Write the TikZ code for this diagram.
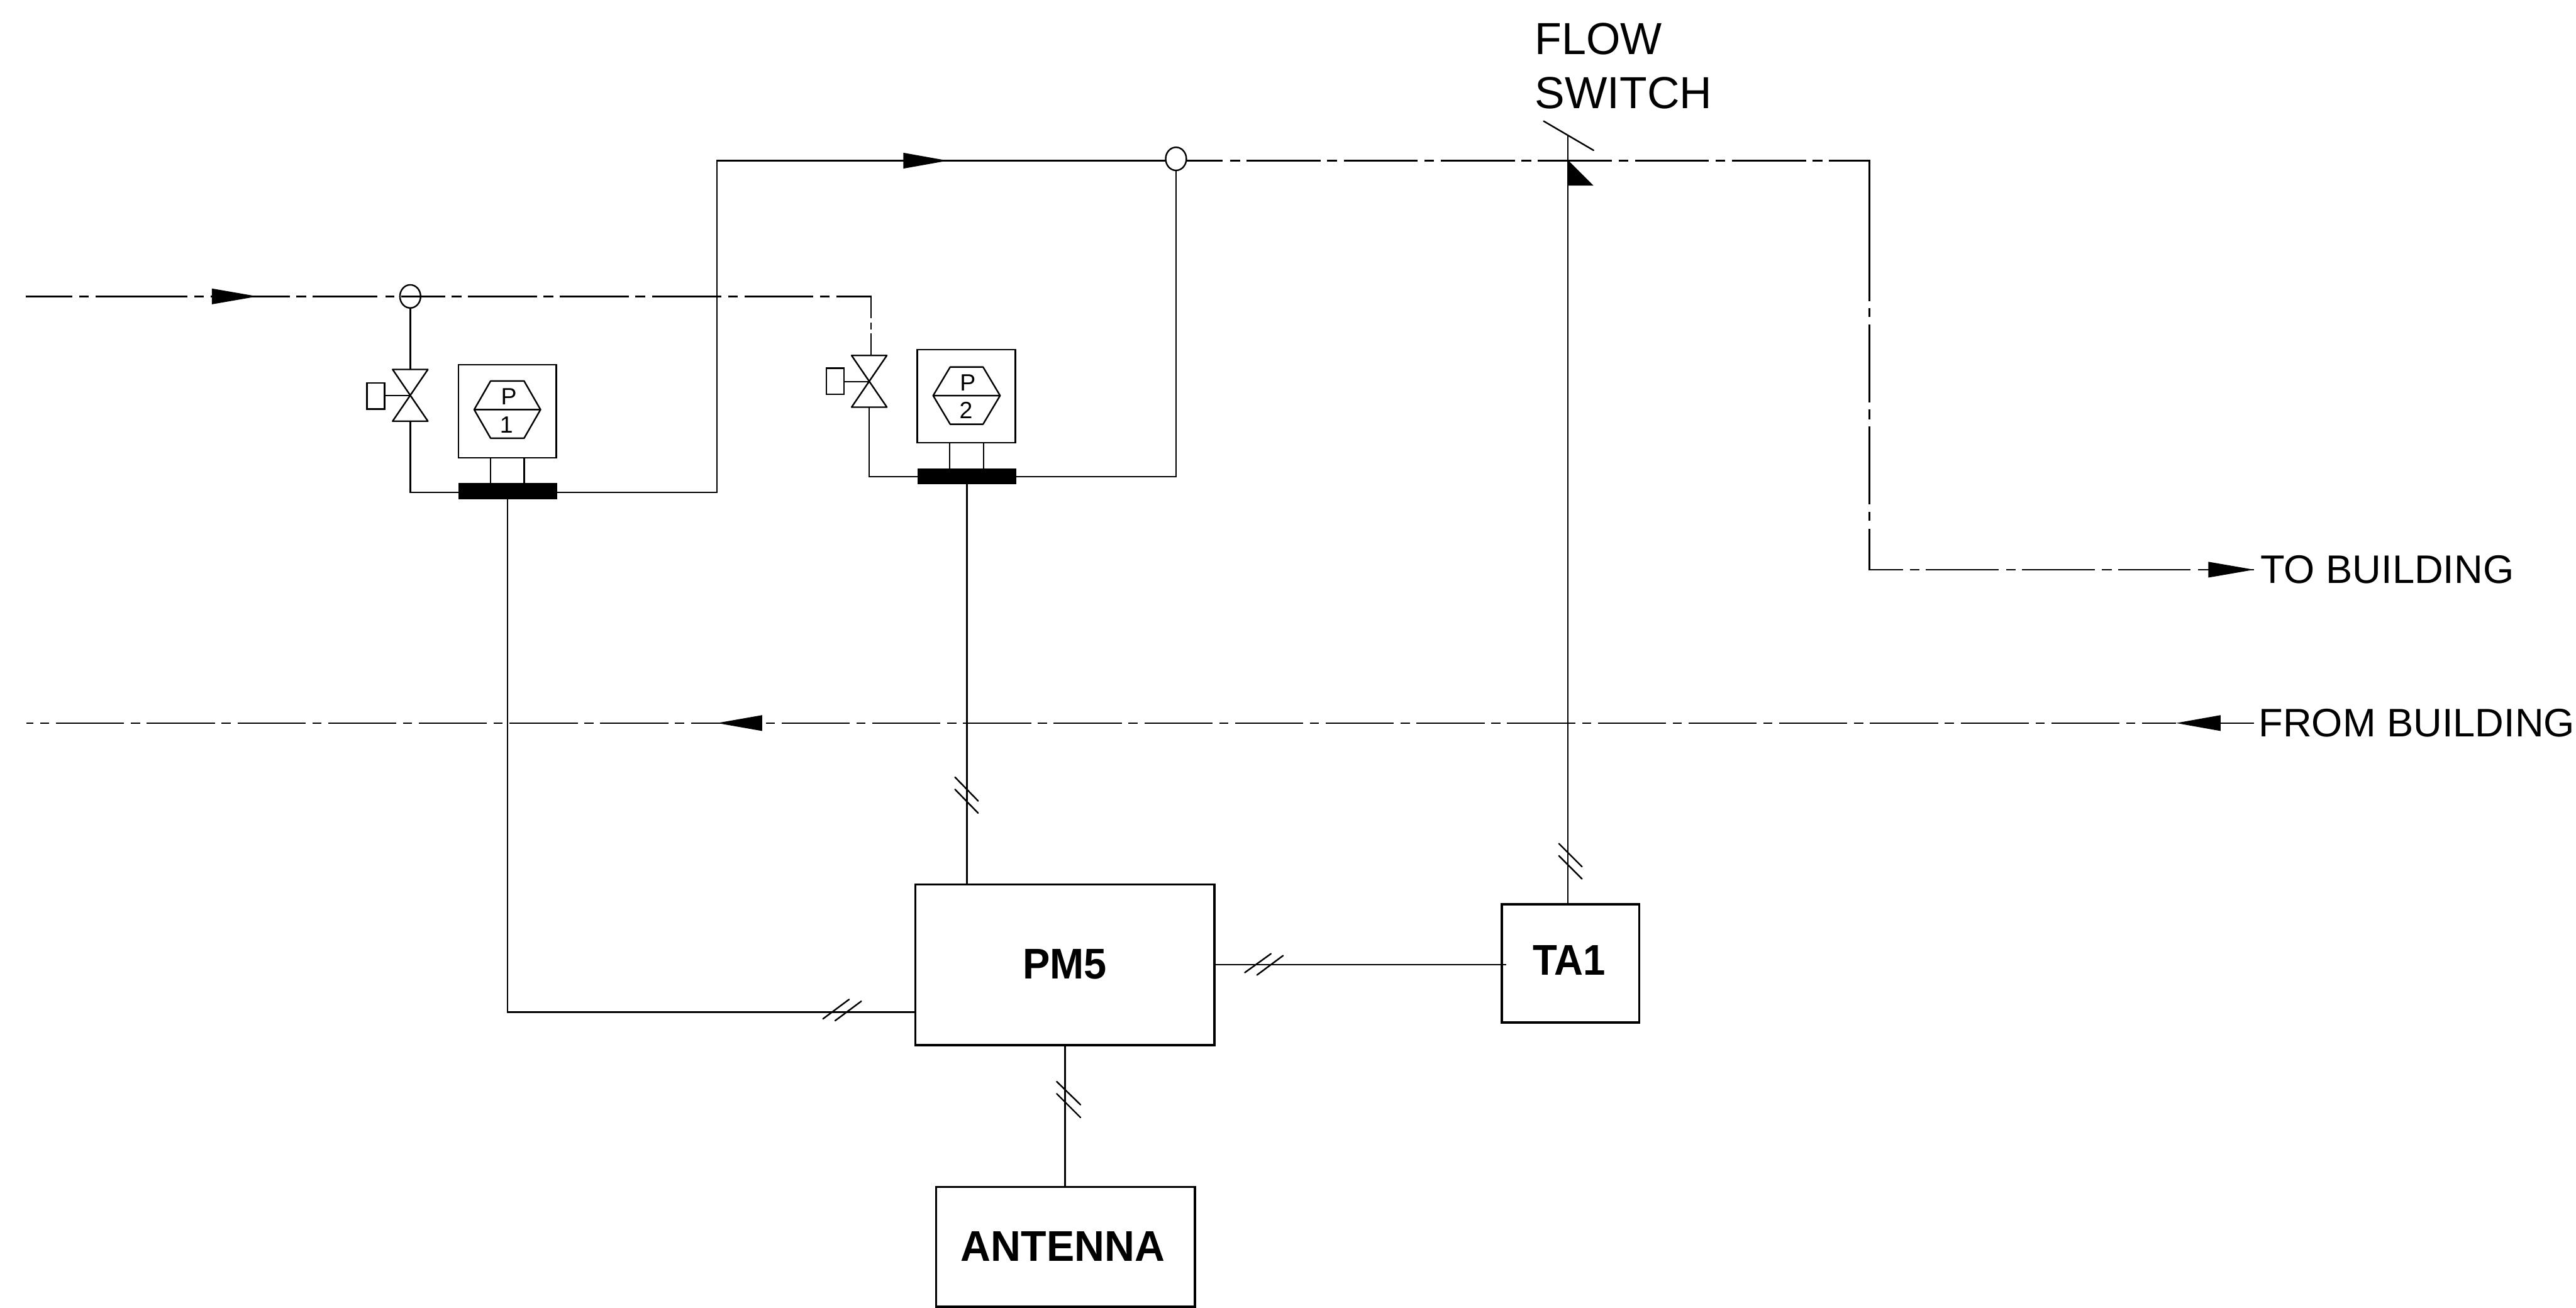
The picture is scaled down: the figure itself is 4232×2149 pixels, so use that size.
\documentclass[tikz,border=0pt]{standalone}
\usepackage{fontspec}
\setmainfont{Liberation Sans}
\usetikzlibrary{shapes.geometric}
\tikzset{
  pipe/.style={line width=.25mm},
  tick/.style={line width=.25mm,line cap=round},
  bigbox/.style={draw,line width=.37mm,inner sep=0pt,outer sep=0pt},
  gaugebox/.style={draw,line width=.25mm,inner sep=0pt,outer sep=0pt,minimum width=16.1mm,minimum height=15.3mm},
  blackbar/.style={fill=black,inner sep=0pt,outer sep=0pt,minimum width=16.2mm,minimum height=2.6mm},
  tap/.style={draw,ellipse,line width=.25mm,inner sep=0pt,outer sep=0pt,minimum width=3.4mm,minimum height=3.8mm},
  actuator/.style={draw,line width=.25mm,inner sep=0pt,outer sep=0pt,minimum width=2.9mm,minimum height=4.3mm},
  gtext/.style={inner sep=0pt,anchor=base,font=\fontsize{11}{13}\selectfont},
  lbl/.style={inner sep=0pt,anchor=base west,font=\fontsize{18.6}{22}\selectfont},
  lblb/.style={inner sep=0pt,anchor=base west,font=\fontsize{21}{25}\selectfont},
  boldtext/.style={inner sep=0pt,anchor=base,font=\fontsize{20.1}{24}\selectfont\bfseries},
  dashA/.style={pipe,dash pattern=on 7.7mm off 1.1mm on 1.6mm off 1.1mm on 15.1mm off 1.1mm on 1.6mm off 1.1mm on 13mm off 1.1mm on 1.6mm off 1.1mm on 10.6mm off 1.3mm on 1.5mm off 1.1mm on 10mm off 1mm},
  dashB/.style={pipe,dash pattern=on 5.7mm off 1.1mm on 1.6mm off 1.1mm on 11.3mm off 1.1mm on 1.6mm off 1.1mm on 11.3mm off 1.1mm on 1.6mm off 1.1mm on 11.4mm off 1.1mm on 1.6mm off 1.1mm on 11.3mm off 1.1mm on 1.6mm off 1.1mm on 9.3mm off .7mm on 1.1mm off .7mm on 10mm off 1mm},
  dashC/.style={pipe,dash pattern=on 6mm off 1.2mm on 1.6mm off 1.1mm on 12.15mm off 1.1mm on 1.6mm off 1.1mm on 12.15mm off 1.1mm on 1.6mm off 1.1mm on 12.15mm off 1.1mm on 1.6mm off 1.1mm on 12.15mm off 1.1mm on 1.6mm off 1.1mm on 12.15mm off 1.1mm on 1.6mm off 1.1mm on 12.15mm off 1.1mm on 1.6mm off 1.1mm on 29.7mm off 1.1mm on 1.5mm off 1.2mm on 12.8mm off 1.2mm on 1.6mm off 1.2mm on 12.8mm off 1.2mm on 1.5mm off 1.3mm on 12.2mm off 1.2mm on 1.5mm off 1.1mm on 12mm off 1.2mm on 1.5mm off 1.1mm on 12mm off 1.1mm on 1.6mm off 1.1mm on 11.9mm off 1.2mm on 10mm off 1mm},
  dashR/.style={pipe,dash pattern=on 11.2mm off 1.1mm on 1.5mm off 1.1mm,dash phase=5.6mm},
}
\begin{document}
\begin{tikzpicture}[x=.1mm,y=-.1mm]
\useasboundingbox (0,0) rectangle (4232,2149);

% boxes
\node[bigbox,minimum width=49.1mm,minimum height=26.4mm] (pm) at (1749.5,1585) {};
\node[bigbox,minimum width=22.6mm,minimum height=19.4mm] (ta) at (2580,1583) {};
\node[bigbox,minimum width=42.5mm,minimum height=19.7mm] (ant) at (1750.5,2048.5) {};
\node[boldtext] (pmt) at (1749,1608) {\scalebox{.95}[1]{PM5}};
\node[boldtext] (tat) at (2578,1602) {\scalebox{.93}[1]{TA1}};
\node[boldtext] (antt) at (1746,2072) {\scalebox{.97}[1]{ANTENNA}};

% gauges
\node[gaugebox] (g1) at (833.5,675.5) {};
\node[gaugebox] (g2) at (1587.5,651) {};
\node[blackbar] (b1) at (834,807) {};
\node[blackbar] (b2) at (1588.5,783) {};
\node[gtext] (p1) at (836,665) {P};
\node[gtext] (n1) at (832,711) {1};
\node[gtext] (p2) at (1590,642) {P};
\node[gtext] (n2) at (1587,688) {2};
\draw[pipe,line join=round] (779,673) -- (806,626) -- (861,626) -- (888,673) -- (861,720) -- (806,720) -- cycle (779,673) -- (888,673);
\draw[pipe,line join=round] (1533,650) -- (1561,603) -- (1615,603) -- (1643,650) -- (1615,697) -- (1561,697) -- cycle (1533,650) -- (1643,650);
\draw[pipe] (806,752) -- (806,794) (861,752) -- (861,794);
\draw[pipe] (1560,727) -- (1560,770) (1616,727) -- (1616,770);

% valves
\coordinate (v1) at (674,650);
\coordinate (v2) at (1428,627);
\draw[pipe,line join=round] (645,607) -- (703,607) -- (645,692) -- (703,692) -- cycle;
\draw[pipe,line join=round] (1399,584) -- (1457,584) -- (1399,669) -- (1457,669) -- cycle;
\node[actuator] (a1) at (617.5,650.5) {};
\node[actuator] (a2) at (1372,626.5) {};
\draw[pipe] (a1.east |- v1) -- (v1);
\draw[pipe] (a2.east |- v2) -- (v2);

% taps
\node[tap] (t1) at (674,487) {};
\node[tap] (t2) at (1932,261) {};

% junction coordinates
\coordinate (s1) at (42,487);
\coordinate (c1) at (1431,487);
\coordinate (vt2) at (1431,584);
\coordinate (vt1) at (674,607);
\coordinate (vb1) at (674,692);
\coordinate (c2) at (674,809);
\coordinate (c3) at (1428,783);
\coordinate (vb2) at (1428,669);
\coordinate (c4) at (1178,809);
\coordinate (c5) at (1178,264);
\coordinate (c6) at (1932,783);
\coordinate (c7) at (3071,264);
\coordinate (c8) at (3071,936);
\coordinate (e1) at (3703,936);
\coordinate (e2) at (3703,1188);
\coordinate (e3) at (3575,1188);
\coordinate (e4) at (43,1188);
\coordinate (d1) at (1949,264);
\coordinate (d2) at (1915,264);
\coordinate (fs) at (2576,223);
\coordinate (fl) at (2576,263);

% pipes
\draw[dashA] (s1) -- (t1.center);
\draw[dashB] (t1.center) -- (c1) -- (vt2);
\draw[pipe] (t1.south) -- (vt1);
\draw[pipe] (vb1) -- (c2) -- (b1.west |- c2);
\draw[pipe] (vb2) -- (c3) -- (b2.west);
\draw[pipe] (b1.east |- c4) -- (c4) -- (c5) -- (d2);
\draw[pipe] (b2.east) -- (c6) -- (t2.south);
\draw[dashC] (d1) -- (c7) -- (c8) -- (e1);
\draw[dashR] (e3) -- (e4);
\draw[pipe] (e2) -- (3648,1188);

% signal lines
\draw[pipe] (834,820) -- (834,1663) -- (pm.west |- 834,1663);
\draw[pipe] (b2.south) -- (b2.south |- pm.north);
\draw[pipe] (fs) -- (ta.north -| fs);
\draw[pipe] (pm.east |- 2000,1585) -- (2475,1585);
\draw[pipe] (1749.5,1717) -- (1749.5,1950);

% flow switch
\draw[tick] (2536,199) -- (2618,247);
\fill (fl) -- (2618,305) -- (2576,305) -- cycle;

% arrowheads
\fill (423,487) -- ++(-75,13) -- ++(0,-26) -- cycle;
\fill (1557,264) -- ++(-73,13) -- ++(0,-26) -- cycle;
\fill (e1) -- ++(-75,13) -- ++(0,-26) -- cycle;
\fill (e3) -- ++(73,13) -- ++(0,-26) -- cycle;
\fill (1178,1188) -- ++(74,13) -- ++(0,-26) -- cycle;

% double ticks
\draw[tick] (1569,1277) -- (1607,1316) (1569,1297) -- (1607,1336);
\draw[tick] (1352,1674) -- (1395,1642) (1372,1677) -- (1415,1645);
\draw[tick] (2045,1598) -- (2088,1567) (2065,1602) -- (2108,1570);
\draw[tick] (2561,1386) -- (2599,1424) (2561,1406) -- (2599,1444);
\draw[tick] (1736,1777) -- (1775,1815) (1736,1797) -- (1775,1836);

% labels
\node[lblb] (l1) at (2521,89) {\scalebox{.98}[1]{FLOW}};
\node[lblb] (l2) at (2521,178) {SWITCH};
\node[lbl] (l3) at (3713,958) {TO BUILDING};
\node[lbl] (l4) at (3710,1210) {FROM BUILDING};
\end{tikzpicture}
\end{document}
